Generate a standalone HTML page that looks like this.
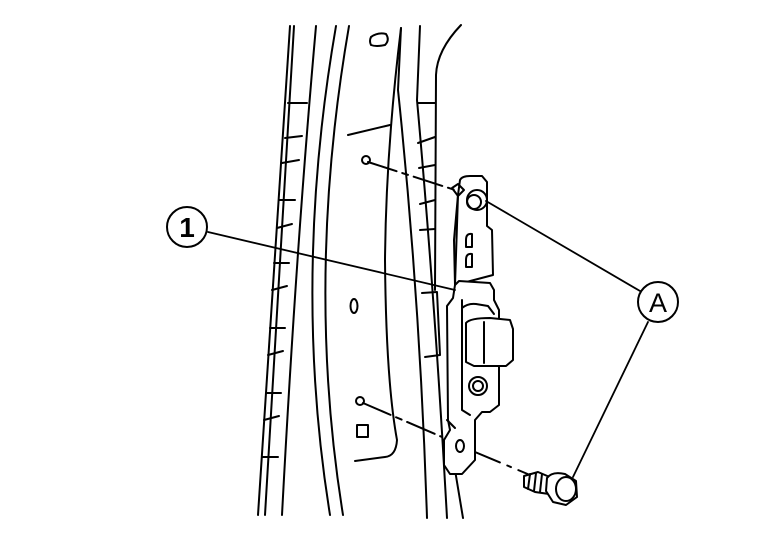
<!DOCTYPE html>
<html><head><style>html,body{margin:0;padding:0;background:#fff}svg{display:block}</style></head>
<body>
<svg width="768" height="544" viewBox="0 0 768 544" xmlns="http://www.w3.org/2000/svg" fill="none" stroke="#000" stroke-width="2" stroke-linejoin="round" stroke-linecap="round">
<path d="M290 26 Q276 250 258 515"/>
<path d="M294 26 Q280 250 265 515"/>
<path d="M316 26 Q296 250 282 515"/>
<path d="M336 26 Q292 280 330 515"/>
<path d="M349 26 Q305 280 343 515"/>
<g>
<line x1="288" y1="103" x2="307" y2="103"/><line x1="285" y1="138" x2="302" y2="136"/>
<line x1="282" y1="163" x2="299" y2="160"/><line x1="279" y1="200" x2="295" y2="200"/>
<line x1="277" y1="228" x2="292" y2="224"/><line x1="274" y1="263" x2="289" y2="263"/>
<line x1="272" y1="290" x2="287" y2="286"/><line x1="270" y1="328" x2="285" y2="328"/>
<line x1="268" y1="355" x2="283" y2="351"/><line x1="266" y1="393" x2="281" y2="393"/>
<line x1="264" y1="420" x2="279" y2="416"/><line x1="262" y1="457" x2="278" y2="457"/>
</g>
<path d="M401 28 Q386 150 385 260 Q386 380 397 440 Q396 456 385 457 L355 461"/>
<path d="M401 28 L398 90 Q420 300 427 518"/>
<path d="M420 26 L417 100 Q435 300 447 518"/>
<path d="M461 25 Q437 50 436 75 L435 290"/>
<path d="M455 470 L463 518"/>
<line x1="418" y1="103" x2="435" y2="103"/><line x1="418" y1="143" x2="435" y2="137"/>
<line x1="419" y1="168" x2="435" y2="165"/><line x1="420" y1="204" x2="435" y2="200"/>
<line x1="420" y1="230" x2="435" y2="229"/>
<path d="M422 293 L437 292 L440 355 L425 357"/>
<path d="M371 37 Q378 32 386 34 Q390 40 385 45 Q376 47 371 45 Q369 41 371 37 Z"/>
<line x1="348" y1="135" x2="390" y2="125"/>
<circle cx="366" cy="160" r="4"/>
<ellipse cx="354" cy="306" rx="3.5" ry="7"/>
<circle cx="360" cy="401" r="4"/>
<rect x="357" y="425" width="11" height="12"/>
<line x1="368" y1="162" x2="455" y2="190" stroke-dasharray="30 6 6 6"/>
<line x1="363" y1="403" x2="442" y2="437" stroke-dasharray="30 6 6 6"/>
<line x1="463" y1="447" x2="530" y2="475" stroke-dasharray="40 8 4 8"/>
<path d="M460 180 Q462 176 470 176 L482 176 L487 182 L487 226 L492 230 L493 275 L455 285 L458 195 Z" fill="#fff"/>
<path d="M455 285 L459 281 L490 283 L494 290 L494 300 L499 310 L499 405 L490 412 L482 412 L475 420 L475 460 L462 474 L450 474 L444 465 L444 440 L450 430 L448 420 L447 306 L453 298 Z" fill="#fff"/>
<path d="M458 195 L454 240 L455 285"/>
<path d="M462 300 L462 410 L470 415"/>
<path d="M447 420 L455 428"/>
<path d="M452 188 L458 184 L464 190 L458 196 Z"/>
<circle cx="477" cy="200" r="10" fill="#fff"/>
<circle cx="474" cy="202" r="7"/>
<path d="M466 240 Q466 233 472 234 L472 247 L466 247 Z M466 260 Q466 253 472 254 L472 267 L466 267 Z"/>
<path d="M462 308 Q468 303 476 304 L488 306 L494 314"/>
<path d="M466 323 Q470 318 490 318 L510 320 L513 329 L513 360 L506 366 L474 366 L466 362 Z" fill="#fff"/>
<line x1="484" y1="322" x2="484" y2="363"/>
<circle cx="478" cy="386" r="9"/><circle cx="478" cy="386" r="5"/>
<ellipse cx="460" cy="446" rx="4" ry="6"/>
<path d="M524 476 L538 472 L552 478 L549 494 L535 492 L524 487 Z"/>
<line x1="530" y1="474" x2="528" y2="489"/><line x1="536" y1="473" x2="534" y2="491"/><line x1="542" y1="474" x2="540" y2="492"/>
<path d="M547 478 Q552 471 565 474 L576 481 L577 497 L566 505 L553 502 L546 491 Z" fill="#fff"/>
<ellipse cx="566" cy="489" rx="10" ry="12"/>
<line x1="208" y1="232" x2="455" y2="290" stroke-width="1.8"/>
<line x1="640" y1="291" x2="486" y2="201" stroke-width="1.8"/>
<line x1="648" y1="322" x2="573" y2="477" stroke-width="1.8"/>
<circle cx="187" cy="227" r="20" fill="#fff"/>
<circle cx="658" cy="302" r="20" fill="#fff"/>
<text x="187" y="237" font-family="Liberation Sans, sans-serif" font-size="28" font-weight="bold" fill="#000" stroke="none" text-anchor="middle">1</text>
<text x="658" y="312" font-family="Liberation Sans, sans-serif" font-size="27" fill="#000" stroke="none" text-anchor="middle">A</text>
</svg>
</body></html>
